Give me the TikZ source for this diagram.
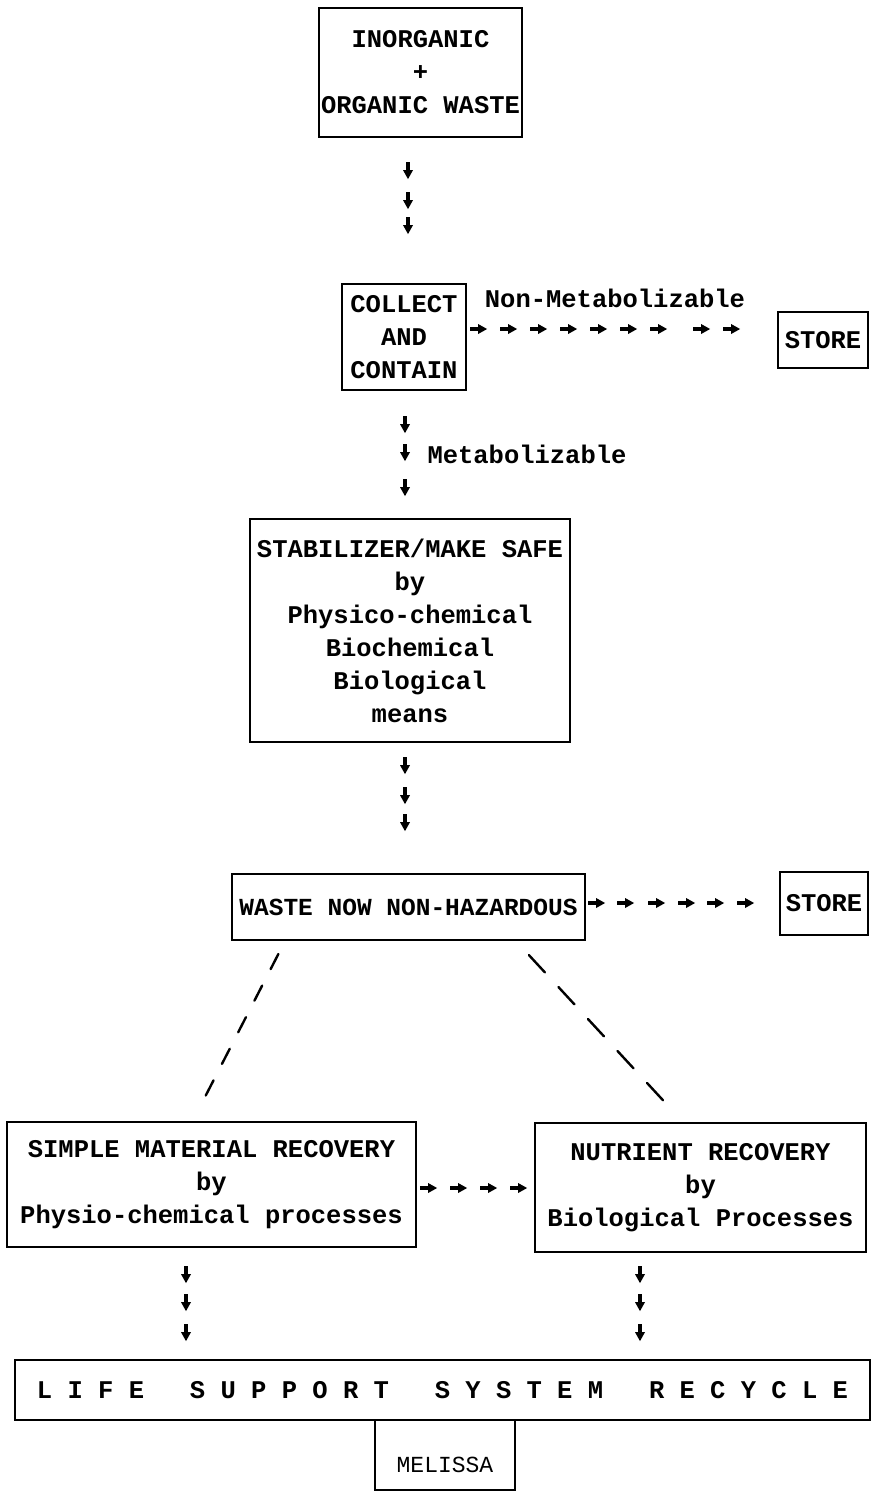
\documentclass[tikz,border=0pt]{standalone}
\usepackage{fontspec}
\setmonofont{Liberation Mono}
\usetikzlibrary{arrows.meta,decorations.markings}
\newcommand\smarrow{\fill (-17pt,-1.8pt) rectangle (-7pt,1.8pt); \fill (-9pt,-5pt) -- (0pt,0pt) -- (-9pt,5pt) -- cycle;}
\tikzset{
  txt/.style={font=\ttfamily\bfseries\fontsize{25.5}{33}\selectfont, align=center, inner sep=2pt},
  box/.style={txt, draw, line width=2.2pt},
  chain/.style={postaction={decorate,decoration={markings,#1}}},
  longdash/.style={line width=2.4pt, line cap=round},
}
\begin{document}
\begin{tikzpicture}[x=1pt,y=-1pt]
\useasboundingbox (0,0) rectangle (874,1508);
% boxes
\node[box, minimum width=187, minimum height=129] (src) at (420.5,72.5) {INORGANIC\\+\\ORGANIC WASTE};
\node[box, minimum width=124, minimum height=106] (col) at (404,337) {COLLECT\\AND\\CONTAIN};
\node[box, minimum width=90, minimum height=56] (st1) at (823,340) {STORE};
\node[box, minimum width=320, minimum height=223] (stab) at (410,630.5) {STABILIZER/MAKE SAFE\\by\\Physico-chemical\\Biochemical\\Biological\\means};
\node[box, minimum width=353, minimum height=66, font=\ttfamily\bfseries\fontsize{24.5}{33}\selectfont] (waste) at (408.5,907) {WASTE NOW NON-HAZARDOUS};
\node[box, minimum width=88, minimum height=63] (st2) at (824,903.5) {STORE};
\node[box, minimum width=409, minimum height=125] (simple) at (211.5,1184.5) {SIMPLE MATERIAL RECOVERY\\by\\Physio-chemical processes};
\node[box, minimum width=331, minimum height=129] (nutr) at (700.5,1187.5) {NUTRIENT RECOVERY\\by\\Biological Processes};
\node[box, minimum width=855, minimum height=60] (life) at (442.5,1390) {L~I~F~E~~~S~U~P~P~O~R~T~~~S~Y~S~T~E~M~~~R~E~C~Y~C~L~E};
\node[box, minimum width=140, minimum height=70, font=\ttfamily\fontsize{23}{26}\selectfont, text height=40pt, text depth=6pt] (mel) at (445,1455) {MELISSA};
% labels
\node[txt] (nonmet) at (615,298) {Non-Metabolizable};
\node[txt] (met) at (527,454) {Metabolizable};
% vertical arrow chains
\path[chain={mark=at position 41pt with {\smarrow}, mark=at position 71pt with {\smarrow}, mark=at position 96pt with {\smarrow}}]
  ([xshift=-12.5]src.south) -- ([xshift=4]col.north);
\path[chain={mark=at position 42pt with {\smarrow}, mark=at position 70pt with {\smarrow}, mark=at position 105pt with {\smarrow}}]
  ([xshift=1]col.south) -- ([xshift=-5]stab.north);
\path[chain={mark=at position 31pt with {\smarrow}, mark=at position 61pt with {\smarrow}, mark=at position 88pt with {\smarrow}}]
  ([xshift=-5]stab.south) -- ([xshift=-3.5]waste.north);
\path[chain={mark=at position 35pt with {\smarrow}, mark=at position 63pt with {\smarrow}, mark=at position 93pt with {\smarrow}}]
  ([xshift=-25.5]simple.south) -- ([xshift=-25.5]simple.south |- life.north);
\path[chain={mark=at position 30pt with {\smarrow}, mark=at position 58pt with {\smarrow}, mark=at position 88pt with {\smarrow}}]
  ([xshift=-60.5]nutr.south) -- ([xshift=-60.5]nutr.south |- life.north);
% horizontal arrow chains
\path[chain={mark=between positions 20pt and 201pt step 30pt with {\smarrow}, mark=at position 243pt with {\smarrow}, mark=at position 273pt with {\smarrow}}]
  ([yshift=8]col.east) -- ([yshift=11]st1.west);
\path[chain={mark=at position 19pt with {\smarrow}, mark=at position 48pt with {\smarrow}, mark=at position 79pt with {\smarrow}, mark=at position 109pt with {\smarrow}, mark=at position 138pt with {\smarrow}, mark=at position 168pt with {\smarrow}}]
  ([yshift=4]waste.east) -- ([yshift=0.5]st2.west);
\path[chain={mark=between positions 20pt and 111pt step 30pt with {\smarrow}}]
  ([yshift=-3.5]simple.east) -- ([yshift=-0.5]nutr.west);
% dashed splits
\draw[longdash, dash pattern=on 17pt off 18.5pt, shorten <=14.5pt, shorten >=28pt]
  ([xshift=-123.5]waste.south) -- ([xshift=-18.8]simple.north);
\draw[longdash, dash pattern=on 23.6pt off 19.9pt, shorten <=19pt, shorten >=28.4pt]
  ([xshift=107.5]waste.south) -- ([xshift=-17.5]nutr.north);
\end{tikzpicture}
\end{document}
